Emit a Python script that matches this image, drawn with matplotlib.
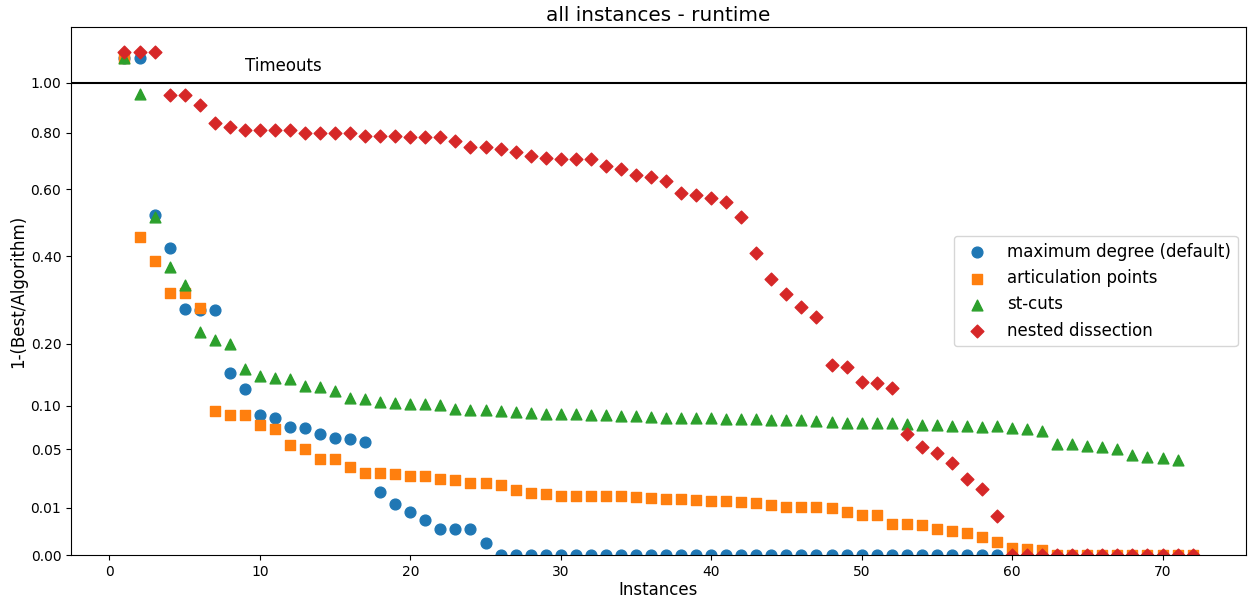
import numpy as np
import matplotlib
matplotlib.use('Agg')
import matplotlib.pyplot as plt

TIMEOUT = 1.11      # timeouts drawn above the 1.00 line
TIMEOUT_ND = 1.135  # nested dissection timeouts sit a bit higher

# maximum degree (default)
max_degree = [TIMEOUT, TIMEOUT, 0.519, 0.423, 0.272, 0.270, 0.270, 0.148, 0.123, 0.0876,
              0.0842, 0.0732, 0.0720, 0.0654, 0.0611, 0.0608, 0.0570, 0.0180, 0.0115, 0.0084,
              0.0055, 0.0030, 0.0030, 0.0030, 0.0006] + [0.0] * 34

# articulation points
artic = [TIMEOUT, 0.455, 0.387, 0.309, 0.307, 0.274, 0.0935, 0.0884, 0.0880, 0.0755,
         0.0709, 0.0546, 0.0501, 0.0416, 0.0416, 0.0350, 0.0304, 0.0300, 0.0292, 0.0282,
         0.0282, 0.0259, 0.0252, 0.0233, 0.0233, 0.0220, 0.0188, 0.0171, 0.0167, 0.0158,
         0.0158, 0.0156, 0.0156, 0.0156, 0.0149, 0.0146, 0.0142, 0.0139, 0.0136, 0.0132,
         0.0129, 0.0126, 0.0123, 0.0114, 0.0105, 0.0102, 0.0102, 0.0100, 0.0083, 0.0071,
         0.0071, 0.0043, 0.0043, 0.0041, 0.0030, 0.0026, 0.0022, 0.0015, 0.00072, 0.0002,
         0.00015, 0.00011] + [0.0] * 10

# st-cuts
st_cuts = [TIMEOUT, 0.954, 0.512, 0.371, 0.326, 0.223, 0.207, 0.199, 0.155, 0.143,
           0.141, 0.139, 0.128, 0.126, 0.120, 0.110, 0.109, 0.105, 0.1033, 0.1023,
           0.1023, 0.1005, 0.0961, 0.0944, 0.0944, 0.0927, 0.0914, 0.0905, 0.0897, 0.0888,
           0.0888, 0.0884, 0.0876, 0.0867, 0.0867, 0.0859, 0.0842, 0.0838, 0.0838, 0.0838,
           0.0830, 0.0826, 0.0826, 0.0818, 0.0818, 0.0818, 0.0810, 0.0798, 0.0778, 0.0778,
           0.0778, 0.0778, 0.0767, 0.0759, 0.0759, 0.0747, 0.0747, 0.0739, 0.0747, 0.0728,
           0.0709, 0.0690, 0.0550, 0.0550, 0.0533, 0.0524, 0.0504, 0.0449, 0.0434, 0.0425,
           0.0405]

# nested dissection
nested = [TIMEOUT_ND, TIMEOUT_ND, TIMEOUT_ND, 0.950, 0.950, 0.909, 0.839, 0.823, 0.811, 0.811,
          0.811, 0.811, 0.798, 0.798, 0.798, 0.798, 0.789, 0.789, 0.788, 0.785,
          0.785, 0.783, 0.767, 0.748, 0.748, 0.740, 0.728, 0.715, 0.707, 0.704,
          0.702, 0.702, 0.680, 0.670, 0.648, 0.642, 0.626, 0.587, 0.582, 0.573,
          0.560, 0.512, 0.409, 0.342, 0.306, 0.275, 0.255, 0.162, 0.159, 0.134,
          0.133, 0.125, 0.0657, 0.0527, 0.0464, 0.0377, 0.0257, 0.0194, 0.0069] + [0.0] * 13

series = [
    ('maximum degree (default)', max_degree, 'o', 60),
    ('articulation points', artic, 's', 55),
    ('st-cuts', st_cuts, '^', 60),
    ('nested dissection', nested, 'D', 42),
]

yticks = [0.0, 0.01, 0.05, 0.10, 0.20, 0.40, 0.60, 0.80, 1.00]

plt.rcParams['font.size'] = 12

fig = plt.figure(figsize=(12.51, 6.02), dpi=100)
ax = fig.add_axes([0.0568, 0.078, 0.9392, 0.877])

for name, vals, marker, size in series:
    x = np.arange(1, len(vals) + 1)
    ax.scatter(x, vals, marker=marker, s=size, label=name)

# square-root y axis
ax.set_yscale('function', functions=(lambda v: np.sqrt(np.clip(v, 0, None)),
                                     lambda v: np.square(v)))
ax.set_ylim(0, 1.25)
ax.set_yticks(yticks)
ax.set_yticklabels(['%.2f' % t for t in yticks])
ax.tick_params(labelsize=10)

ax.axhline(1.0, color='black', linewidth=1.5)
ax.text(9, 1.05, 'Timeouts', fontsize=12)

ax.set_title('all instances - runtime', fontsize=14.4, pad=4.5)
ax.set_xlabel('Instances', labelpad=1.5)
ax.set_ylabel('1-(Best/Algorithm)', labelpad=2.5)
ax.legend(loc='center right', fontsize=12)

fig.savefig('out.png', dpi=100)
